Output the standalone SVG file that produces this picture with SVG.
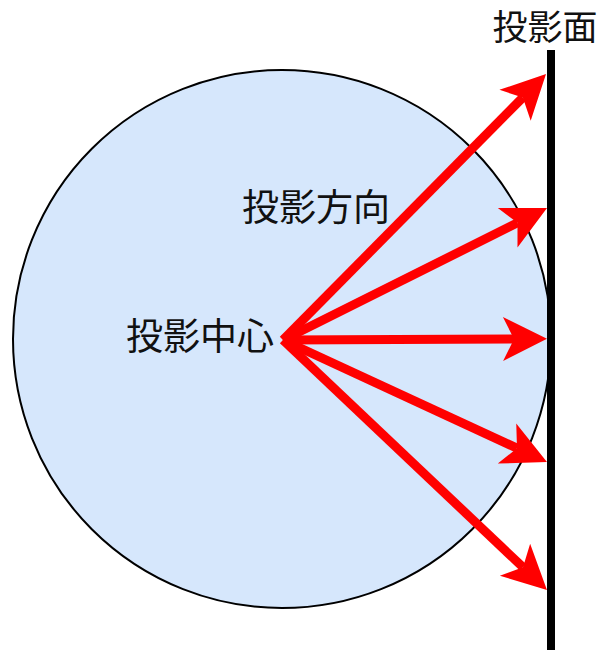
<svg xmlns="http://www.w3.org/2000/svg" width="601" height="650" viewBox="0 0 601 650">
<style>
.lbl{font-family:"Noto Sans CJK JP","Noto Sans CJK SC",sans-serif;font-size:37px;font-weight:400;fill:#111;}
.arr{stroke:#ff0000;stroke-width:9;fill:none;marker-end:url(#ah);}
</style>
<defs>
<marker id="ah" markerUnits="userSpaceOnUse" markerWidth="50" markerHeight="50" refX="11" refY="0" orient="auto" overflow="visible">
<path d="M0,-22 L44,0 L0,22 L11,0 Z" fill="#ff0000"/>
</marker>
</defs>
<rect width="601" height="650" fill="#ffffff"/>
<g id="sphere">
<circle cx="282" cy="339" r="269" fill="#d6e7fc" stroke="#000" stroke-width="2"/>
</g>
<g id="plane">
<line x1="551" y1="50" x2="551" y2="650" stroke="#000" stroke-width="8"/>
<text class="lbl" x="545" y="40" text-anchor="middle" style="font-size:35px">投影面</text>
</g>
<g id="center">
<text class="lbl" x="200" y="350" text-anchor="middle">投影中心</text>
</g>
<g id="direction">
<text class="lbl" x="316" y="221" text-anchor="middle">投影方向</text>
</g>
<g id="connectors">
<line class="arr" x1="283" y1="340" x2="522.8" y2="97.5"/>
<line class="arr" x1="283" y1="340" x2="517.5" y2="222.8"/>
<line class="arr" x1="283" y1="340" x2="514" y2="339"/>
<line class="arr" x1="283" y1="340" x2="517" y2="448.2"/>
<line class="arr" x1="283" y1="340" x2="523" y2="567.3"/>
</g>
</svg>
